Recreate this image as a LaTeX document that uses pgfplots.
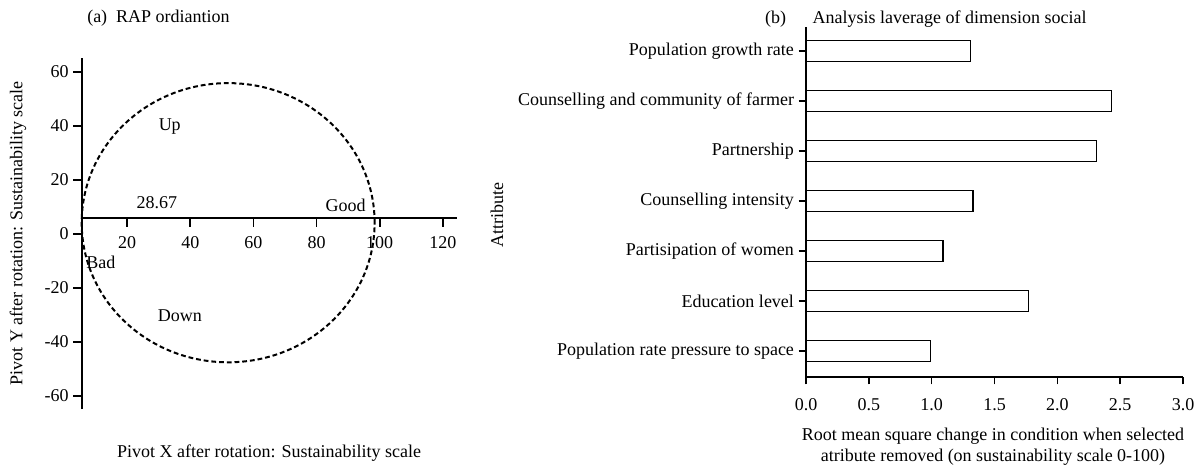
\documentclass[border=0pt]{standalone}
\usepackage{fontspec}
\setmainfont{Liberation Serif}
\usepackage{pgfplots}
\pgfplotsset{compat=1.18}
\begin{document}
\begin{tikzpicture}[font=\fontsize{13.5}{15.5}\selectfont]
\useasboundingbox (0,0) rectangle (901.5pt,348.75pt);
% ---------- (a) RAP ordination ----------
\begin{axis}[
  at={(61.5pt,42pt)}, anchor=south west, scale only axis,
  width=281.25pt, height=263.25pt,
  xmin=5.7, xmax=124.5, ymin=-64.8, ymax=65.2,
  axis x line=bottom, axis y line=left,
  axis x line shift=-143.25pt,
  axis line style={-, line width=1.4pt},
  every tick/.style={black, line width=1.3pt},
  tick align=outside, major tick length=6.5pt,
  xtick={20,40,...,120}, ytick={-60,-40,...,60},
  /pgf/number format/assume math mode=true,
  ticklabel style={font=\fontsize{13.5}{15.5}\selectfont},
  xticklabel style={yshift=-3.5pt},
  clip=false,
  xlabel={Pivot X after rotation: Sustainability scale},
  ylabel={Pivot Y after rotation: Sustainability scale},
  xlabel style={at={(rel axis cs:0.499,-0.125)}, anchor=center},
  ylabel style={at={(rel axis cs:-0.171,0.501)}, anchor=center},
]
\addplot[draw=none, forget plot] coordinates {(28.67,6)};
\draw[black, line width=1.5pt, dash pattern=on 3.6pt off 2.2pt] (axis cs:52,4.2) ellipse [x radius=46.4, y radius=51.7];
\node at (axis cs:33.5,40) {Up};
\node at (axis cs:29.4,11.8) {28.67};
\node at (axis cs:89.2,10.5) {Good};
\node at (axis cs:11.7,-10.3) {Bad};
\node at (axis cs:36.7,-30.4) {Down};
\node at (rel axis cs:0.204,1.114) {(a)\enspace RAP ordiantion};
\end{axis}
% ---------- (b) leverage ----------
\begin{axis}[
  at={(604.5pt,66pt)}, anchor=south west, scale only axis,
  width=282.75pt, height=262.5pt,
  xmin=0, xmax=3, ymin=-0.52, ymax=6.48,
  xbar, bar width=0.42, bar shift=0pt,
  axis x line*=bottom, axis y line*=left,
  axis line style={-, line width=1.2pt},
  every tick/.style={black, line width=1.2pt},
  tick align=outside, major tick length=5.5pt,
  xtick={0,0.5,...,3},
  ytick={0,1,2,3,4,5,6},
  yticklabels={Population rate pressure to space, Education level, Partisipation of women, Counselling intensity, Partnership, Counselling and community of farmer, Population growth rate},
  /pgf/number format/assume math mode=true,
  xticklabel style={/pgf/number format/fixed, /pgf/number format/fixed zerofill, /pgf/number format/precision=1, yshift=-7pt},
  ticklabel style={font=\fontsize{13.5}{15.5}\selectfont},
  clip=false,
  xlabel={Root mean square change in condition when selected\\atribute removed (on sustainability scale 0-100)},
  ylabel={Attribute},
  xlabel style={at={(rel axis cs:0.496,-0.199)}, anchor=center, align=center},
  ylabel style={at={(rel axis cs:-0.82,0.463)}, anchor=center},
]
\addplot[fill=white, draw=black, line width=1.1pt] coordinates {
  (0.99,0) (1.77,1) (1.09,2) (1.33,3) (2.31,4) (2.43,5) (1.31,6)};
\node[anchor=east] at (rel axis cs:-0.040,1.023) {(b)};
\node[anchor=west] at (rel axis cs:0.005,1.023) {Analysis laverage of dimension social};
\end{axis}
\end{tikzpicture}
\end{document}
